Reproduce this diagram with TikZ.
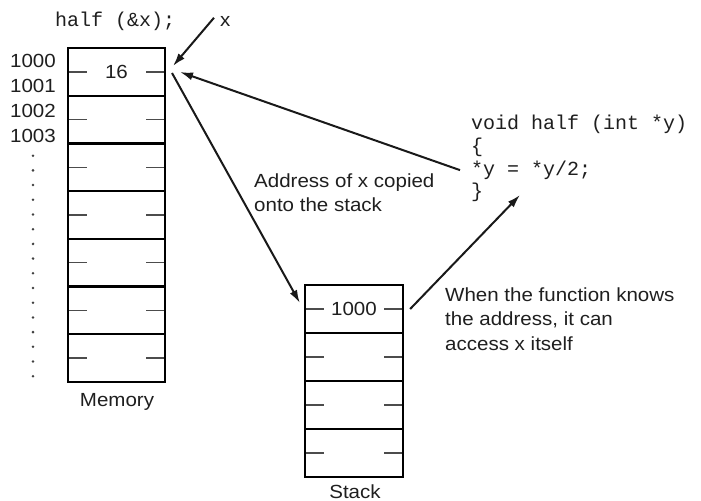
\documentclass[tikz,border=0pt]{standalone}
\usepackage{fontspec}
\setmainfont{Liberation Sans}[FakeStretch=1.08]
\setmonofont{Liberation Mono}
\usetikzlibrary{arrows.meta}
\begin{document}
\begin{tikzpicture}[x=1bp,y=-1bp,
  every node/.style={inner sep=0pt, text=black!88},
  txt/.style={font=\fontsize{19bp}{24.5bp}\selectfont},
  code/.style={font=\ttfamily\fontsize{20bp}{23bp}\selectfont},
  ticks/.style={line width=1.5bp, draw=black!70},
  memcell/.style={draw=black, line width=2.3bp, minimum width=97bp,
    minimum height=47.7bp, txt,
    path picture={\draw[ticks] (path picture bounding box.west) -- ++(19,0)
      (path picture bounding box.east) -- ++(-19,0);}},
  stackcell/.style={memcell, minimum width=98bp, minimum height=48bp},
  ptr/.style={-{Latex[length=13bp,width=8bp]}, line width=2bp, draw=black!90}]
\useasboundingbox[fill=white] (0,0) rectangle (701,501);

% memory column
\foreach \k/\t in {1/16,2/,3/,4/,5/,6/,7/}
  \node[memcell] (m\k) at (116.5,{48+47.71*(\k-0.5)}) {\t};
\node[txt, anchor=base] (memlbl) at (117,406) {Memory};

% addresses beside the first cells
\node[txt, anchor=base east] (a0) at (56,68) {1000};
\node[txt, anchor=base east] (a1) at (56,93) {1001};
\node[txt, anchor=base east] (a2) at (56,118) {1002};
\node[txt, anchor=base east] (a3) at (56,143) {1003};
\foreach \i in {0,...,15}
  \fill[black!75] (33,{155.7+14.7*\i}) circle (1.4);

% call and variable name
\node[code, anchor=base west] (call) at (55,27) {half (\&x);};
\node[txt, anchor=base west] (xlbl) at (220,27) {x};

% stack column
\foreach \k/\t in {1/1000,2/,3/,4/}
  \node[stackcell] (s\k) at (354,{285+48*(\k-0.5)}) {\t};
\node[txt, anchor=base] (stklbl) at (355,498) {Stack};

% function body
\node[code, anchor=base west] (c1) at (471,130) {void half (int *y)};
\node[code, anchor=base west] (c2) at (471,152.7) {\{};
\node[code, anchor=base west] (c3) at (471,175.3) {*y = *y/2;};
\node[code, anchor=base west] (c4) at (471,198) {\}};

% explanations (base anchor sits on the last line)
\node[txt, anchor=base west, align=left] (addr) at (254,212)
  {Address of x copied\\onto the stack};
\node[txt, anchor=base west, align=left] (know) at (445,350)
  {When the function knows\\the address, it can\\access x itself};

% pointer ends
\coordinate (xtip) at (173,66);
\coordinate (xsrc) at (172,73);
\coordinate (ytip) at (180,72);
\coordinate (btip) at (520,195);

\draw[ptr] ([shift={(-6,1)}]xlbl.north west) -- (xtip);
\draw[ptr] ([xshift=-11bp]c3.west) -- (ytip);
\draw[ptr] (xsrc) -- ([shift={(-4,-6)}]s1.west);
\draw[ptr] ([xshift=6bp]s1.east) -- (btip);
\end{tikzpicture}
\end{document}
